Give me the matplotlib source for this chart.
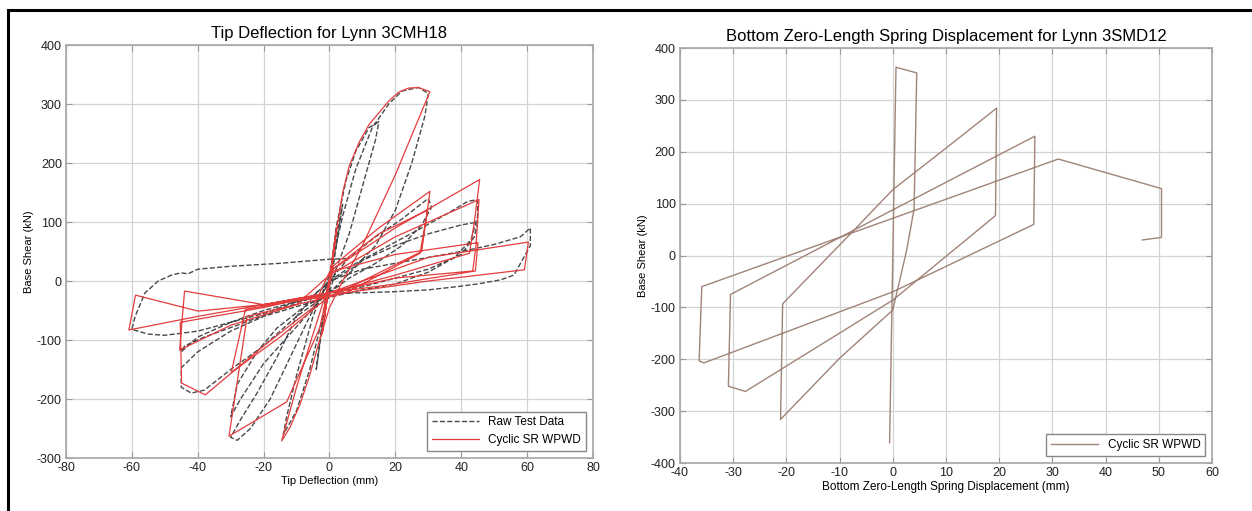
import numpy as np
import matplotlib.pyplot as plt
from matplotlib.lines import Line2D

plt.rcParams['font.family'] = ['Liberation Sans', 'DejaVu Sans']
plt.rcParams['axes.unicode_minus'] = False

# ---- left panel: Lynn 3CMH18 tip deflection (mm) vs base shear (kN) ----
raw_x = [0, 1, 2, 0.5, -1, -2, -0.5, 0, 2, 4, 1, -2, -4, -1, 0,
         2, 5, 8, 12, 15, 14, 10, 6, 2, -2, -6, -10, -14, -13, -10, -5, 0,
         4, 8, 13, 18, 22, 27, 30, 29, 25, 20, 14, 8, 2, -4, -10, -16, -22, -27, -30, -28, -24, -18, -12, -6, 0,
         6, 14, 22, 30, 31, 28, 22, 14, 6, 0, -8, -16, -22, -28, -30, -27, -20, -12, -4, 0,
         8, 18, 28, 36, 42, 45, 45, 43, 38, 30, 20, 10, 2, -8, -20, -30, -40, -45, -45, -42, -38, -30, -20, -10, 0,
         10, 20, 30, 40, 45, 44, 40, 30, 20, 10, 0, -10, -20, -30, -40, -45, -44, -38, -28, -16, -6, 0,
         10, 20, 30, 40, 50, 58, 61, 61, 58, 56, 52, 45, 38, 30, 20, 10, 0, -10, -20, -30, -40, -50, -55, -60, -59, -56, -52, -48, -45, -43, -40, -30, -15, 0, 5]
raw_y = [0, 40, 80, 20, -40, -80, -15, 0, 70, 130, 20, -70, -150, -20, 0,
         90, 170, 220, 260, 270, 240, 160, 80, 20, -60, -150, -220, -260, -230, -160, -60, 10,
         110, 190, 260, 300, 322, 328, 318, 280, 200, 120, 60, 25, 5, -20, -60, -130, -190, -235, -265, -270, -250, -200, -130, -60, 0,
         40, 75, 105, 140, 125, 95, 60, 30, 5, -20, -45, -80, -120, -175, -230, -200, -140, -90, -40, 0,
         30, 60, 90, 115, 135, 138, 110, 70, 40, 15, -5, -15, -25, -40, -60, -85, -120, -147, -180, -190, -185, -150, -110, -60, -20,
         35, 60, 80, 95, 100, 75, 45, 20, 5, -10, -20, -35, -50, -70, -95, -120, -110, -95, -75, -50, -30, 0,
         20, 30, 40, 50, 62, 75, 90, 60, 30, 10, 2, -5, -10, -15, -18, -20, -20, -35, -55, -70, -85, -92, -90, -82, -60, -20, 0, 10, 14, 12, 20, 25, 30, 37, 38]

red_x = [0, 1.2, -1.2, 1.8, -1.8, 2.2, -2.2, 0.5, -0.5, 1.5, -1.5, 0,
         2, 4, 6, 9, 12, 15, 18, 21, 24, 27, 30.5, 20, 10, 4, 0, -3, -6, -9, -12, -14.5, -10, -5, -1, 1,
         15, 30.5, 29.5, 28, 10, 1, -12, -25.5, -29.8, -15, -1, 1,
         15, 29.8, 27.5, 5, -10, -25, -30.5, -13, -3, 1,
         20, 45.6, 44, 42.5, 20, 0, -20, -44, -45.5, -30, -10, 0,
         20, 45.4, 44.5, 43.5, 20, 0, -20, -45.3, -44.9, -37.7, -20, -5, 0,
         20, 45.1, 44.3, 20, 0,
         30, 60.4, 59.2, 30, 5, -20, -39.9, -58.9, -60.9, -40, -20, 0]
red_y = [0, 45, -45, 70, -70, 90, -90, 20, -20, 60, -60, 0,
         80, 150, 195, 235, 265, 285, 305, 320, 327, 328, 321, 180, 60, 0, -45, -100, -160, -210, -248, -271, -180, -90, -20, 25,
         90, 152, 110, 50, 0, -25, -35, -48, -155, -95, -30, 20,
         80, 120, 47, -20, -40, -60, -263, -205, -80, 20,
         90, 172, 100, 47, 10, -20, -40, -17, -117, -75, -40, 10,
         75, 138, 60, 17, 5, -20, -45, -70, -173, -193, -110, -45, 15,
         45, 65, 17, -5, -20,
         40, 66, 19, 0, -20, -40, -51, -24, -83, -60, -40, -20]

# ---- right panel: Lynn 3SMD12 bottom zero-length spring ----
spring_x = [-0.6, 0, 0.6, 4.5, 4.0, 2.6, 0, -10, -21.1, -20.7, -7, 0, 10, 19.5,
            19.3, 0, -27.7, -30.9, -30.5, 0, 26.7, 26.5, 0, -35.5, -36.4, -35.9, 31.1, 50.5, 50.5, 46.9]
spring_y = [-361, 0, 363, 352, 90, 10, -105, -198, -316, -93, 52, 127, 207, 284,
            77, -86, -262, -252, -75, 88, 230, 60, -70, -207, -203, -60, 186, 129, 35, 30]


def style_axes(ax, xlim, ylim, xticks, yticks):
    ax.set_xlim(*xlim)
    ax.set_ylim(*ylim)
    ax.set_xticks(xticks)
    ax.set_yticks(yticks)
    ax.grid(True, color='#d4d4d4', linewidth=0.9)
    ax.set_axisbelow(True)
    ax.tick_params(direction='in', length=4, labelsize=9, color='#999999',
                   top=True, right=True, labelcolor='#222222', pad=3)
    for s in ax.spines.values():
        s.set_color('#a6a6a6')
        s.set_linewidth(1.2)


fig = plt.figure(figsize=(12.52, 5.11), dpi=100)

ax1 = fig.add_axes([0.0527, 0.1037, 0.4209, 0.8082])
ax1.plot(raw_x, raw_y, '--', color='#4a4a4a', lw=1.0, label='Raw Test Data')
ax1.plot(red_x, red_y, '-', color='#e43d3d', lw=0.9, label='Cyclic SR WPWD')
style_axes(ax1, (-80, 80), (-300, 400), range(-80, 81, 20), range(-300, 401, 100))
ax1.set_title('Tip Deflection for Lynn 3CMH18', fontsize=12, pad=5)
ax1.set_xlabel('Tip Deflection (mm)', fontsize=8, labelpad=1)
ax1.set_ylabel('Base Shear (kN)', fontsize=8, labelpad=2)
leg = ax1.legend(loc='lower right', fontsize=8.5, fancybox=False, framealpha=1,
                 edgecolor='#888888', borderaxespad=0.6, handlelength=4)
leg.get_frame().set_linewidth(1.0)

ax2 = fig.add_axes([0.5431, 0.0939, 0.4250, 0.8121])
ax2.plot(spring_x, spring_y, '-', color='#a08478', lw=1.0, label='Cyclic SR WPWD')
style_axes(ax2, (-40, 60), (-400, 400), range(-40, 61, 10), range(-400, 401, 100))
ax2.set_title('Bottom Zero-Length Spring Displacement for Lynn 3SMD12', fontsize=12, pad=5)
ax2.set_xlabel('Bottom Zero-Length Spring Displacement (mm)', fontsize=8.5, labelpad=1)
ax2.set_ylabel('Base Shear (kN)', fontsize=8, labelpad=2)
leg = ax2.legend(loc='lower right', fontsize=8.5, fancybox=False, framealpha=1,
                 edgecolor='#888888', borderaxespad=0.6, handlelength=4)
leg.get_frame().set_linewidth(1.0)

# black frame along top and left edge
fig.add_artist(Line2D([0.0065, 1.0], [0.980, 0.980], transform=fig.transFigure,
                      color='black', lw=2.2))
fig.add_artist(Line2D([0.0065, 0.0065], [0.0, 0.980], transform=fig.transFigure,
                      color='black', lw=2.2))

fig.savefig('out.png', dpi=100)
plt.close(fig)
